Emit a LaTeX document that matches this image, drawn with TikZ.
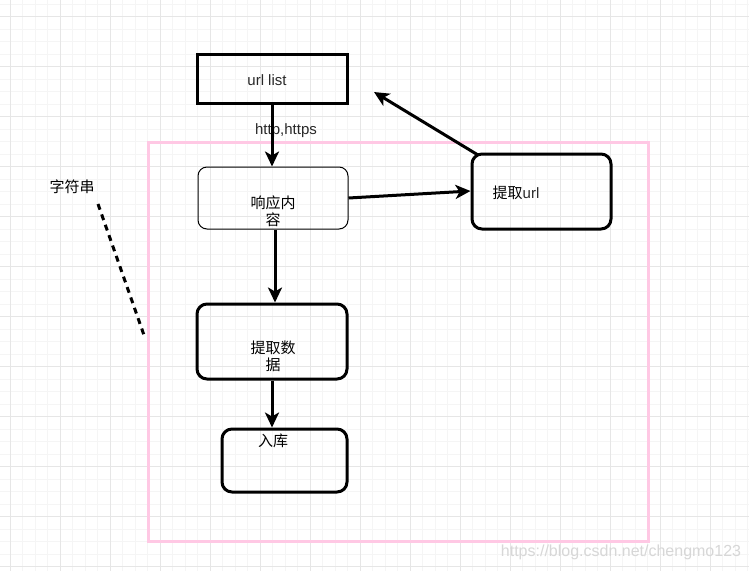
\documentclass[tikz,border=0pt]{standalone}
\usepackage{fontspec}
\setmainfont{Liberation Sans}
\newfontfamily\cjk{Noto Sans CJK SC}
\usetikzlibrary{arrows.meta,calc}
\definecolor{gridminor}{RGB}{245,245,245}
\definecolor{gridmajor}{RGB}{230,230,230}
\definecolor{pinkframe}{RGB}{255,200,228}
\definecolor{txtgray}{RGB}{40,40,40}
\definecolor{wmark}{RGB}{215,215,215}
\tikzset{
  boxsq/.style={draw=black, line width=3pt, minimum width=150pt, minimum height=49pt, inner sep=0pt},
  boxthin/.style={draw=black, line width=1pt, rounded corners=9pt, inner sep=0pt},
  boxthick/.style={draw=black, line width=3pt, rounded corners=10pt, inner sep=0pt},
  lbl/.style={font=\fontsize{15}{17}\selectfont, text=black, align=center, inner sep=0pt},
  conn/.style={line width=3pt, -{Stealth[length=15pt,width=14pt,inset=4pt]}},
  dashline/.style={line width=3pt, dash pattern=on 6pt off 5pt},
}
\begin{document}
\begin{tikzpicture}[x=1pt,y=-1pt]
\useasboundingbox (0,0) rectangle (749,571);
\fill[white] (0,0) rectangle (749,571);
% grid
\foreach \i in {0,...,59} {\draw[gridminor, line width=0.7pt] ({10+12.5*\i},0) -- ({10+12.5*\i},571);}
\foreach \i in {0,...,45} {\draw[gridminor, line width=0.7pt] (0,{4.2+12.5*\i}) -- (749,{4.2+12.5*\i});}
\foreach \i in {0,...,14} {\draw[gridmajor, line width=0.9pt] ({10+50*\i},0) -- ({10+50*\i},571);}
\foreach \i in {0,...,11} {\draw[gridmajor, line width=0.9pt] (0,{16.7+50*\i}) -- (749,{16.7+50*\i});}
% pink frame
\node[draw=pinkframe, line width=3pt, minimum width=500pt, minimum height=399pt, inner sep=0pt] (frame) at (398,341.5) {};
% boxes
\node[boxsq] (url) at (272,79) {};
\node[lbl, text=txtgray] (urlt) at (267,80) {url list};
\node[boxthin, minimum width=150pt, minimum height=62pt] (resp) at (273,198) {};
\node[lbl] (respt) at (273,211.5) {\cjk 响应内\\\cjk 容};
\node[boxthick, minimum width=139pt, minimum height=75pt] (geturl) at (541.5,191.5) {};
\node[lbl] (geturlt) at (516,193) {\cjk 提取\textcolor{txtgray}{\fontspec{Liberation Sans}url}};
\node[boxthick, minimum width=150pt, minimum height=75pt] (data) at (272,341.5) {};
\node[lbl] (datat) at (273,356) {\cjk 提取数\\\cjk 据};
\node[boxthick, minimum width=125pt, minimum height=63pt] (db) at (284.5,460.5) {};
\node[lbl] (dbt) at (273,441) {\cjk 入库};
% labels
\node[lbl, text=txtgray] (http) at (286,131) {http,https};
\node[lbl] (str) at (72,187) {\cjk 字符串};
\node[font=\fontsize{16}{18}\selectfont, text=wmark, inner sep=0pt] (wm) at (621,552) {https://blog.csdn.net/chengmo123};
% connectors
\draw[conn] (url.south) -- (url.south |- resp.north);
\draw[conn] (resp.south -| 275,0) -- (data.north -| 275,0);
\draw[conn] (data.south) -- (data.south |- db.north);
\draw[conn] (resp.east) -- ($(geturl.west)+(0,-0.5)$);
\coordinate (tip) at (374,92);
\coordinate (gstart) at (478,155);
\draw[conn] (gstart) -- (tip);
\coordinate (d1) at (98,204);
\coordinate (d2) at (145,338);
\draw[dashline] (d1) -- (d2);
\end{tikzpicture}
\end{document}
